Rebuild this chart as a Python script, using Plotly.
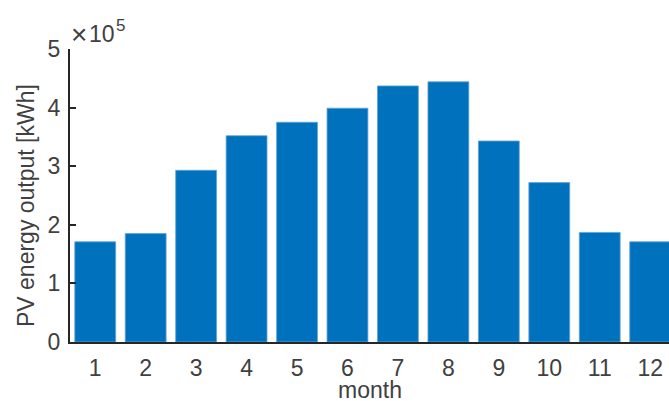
import plotly.graph_objects as go

# Monthly PV energy output (units of 1e5 kWh)
months = [1, 2, 3, 4, 5, 6, 7, 8, 9, 10, 11, 12]
month_labels = [str(m) for m in months]
energy_e5_kwh = [1.71, 1.85, 2.93, 3.52, 3.75, 3.99, 4.37, 4.44, 3.43, 2.72, 1.87, 1.71]
y_ticks = [0, 1, 2, 3, 4, 5]

FONT = "Liberation Sans, Arial, sans-serif"
AXIS_COLOR = "#262626"
TEXT_COLOR = "#404040"
FS = 23

PLOT_W = 669 - 70
PLOT_H = 401 - 49 - 59


def px_x(px):
    """Convert a pixel x position into paper coordinates."""
    return (px - 70) / PLOT_W


def px_y(px):
    """Convert a pixel y position (from the top) into paper coordinates."""
    return (342 - px) / PLOT_H


fig = go.Figure()
fig.add_trace(go.Bar(
    x=months,
    y=energy_e5_kwh,
    width=0.81,
    marker=dict(color="#0072BD", line=dict(color="#5fa3d6", width=0.8)),
))

fig.update_layout(
    width=669,
    height=401,
    margin=dict(l=70, r=0, t=49, b=59),
    paper_bgcolor="white",
    plot_bgcolor="white",
    showlegend=False,
    font=dict(family=FONT, size=FS, color=TEXT_COLOR),
    xaxis=dict(
        range=[0.5, 12.373],
        tickmode="array",
        tickvals=months,
        ticktext=month_labels,
        ticks="",
        showgrid=False,
        zeroline=False,
        showline=True,
        linecolor=AXIS_COLOR,
        linewidth=2,
        ticklabelstandoff=4,
        tickfont=dict(family=FONT, size=FS, color=TEXT_COLOR),
    ),
    yaxis=dict(
        range=[0, 5],
        tickmode="array",
        tickvals=y_ticks,
        ticktext=[str(t) for t in y_ticks],
        ticks="inside",
        ticklen=6,
        tickwidth=2,
        tickcolor=AXIS_COLOR,
        showgrid=False,
        zeroline=False,
        showline=True,
        linecolor=AXIS_COLOR,
        linewidth=2,
        ticklabelstandoff=3,
        tickfont=dict(family=FONT, size=FS, color=TEXT_COLOR),
    ),
    annotations=[
        dict(
            text="PV energy output [kWh]",
            xref="paper", yref="paper",
            x=px_x(26), y=px_y(206),
            xanchor="center", yanchor="middle",
            textangle=-90, showarrow=False,
            font=dict(family=FONT, size=FS, color=TEXT_COLOR),
        ),
        dict(
            text="month",
            xref="paper", yref="paper",
            x=px_x(370), y=px_y(390),
            xanchor="center", yanchor="middle",
            showarrow=False,
            font=dict(family=FONT, size=FS, color=TEXT_COLOR),
        ),
        # axis exponent label: "×", "10" and a raised "5"
        dict(
            text="×",
            xref="paper", yref="paper",
            x=px_x(78.5), y=px_y(35),
            xanchor="center", yanchor="middle",
            showarrow=False,
            font=dict(family=FONT, size=28, color=TEXT_COLOR),
        ),
        dict(
            text="10",
            xref="paper", yref="paper",
            x=px_x(101.5), y=px_y(34),
            xanchor="center", yanchor="middle",
            showarrow=False,
            font=dict(family=FONT, size=FS, color=TEXT_COLOR),
        ),
        dict(
            text="5",
            xref="paper", yref="paper",
            x=px_x(120), y=px_y(26),
            xanchor="center", yanchor="middle",
            showarrow=False,
            font=dict(family=FONT, size=17, color=TEXT_COLOR),
        ),
    ],
)

fig.write_html("out.html")
